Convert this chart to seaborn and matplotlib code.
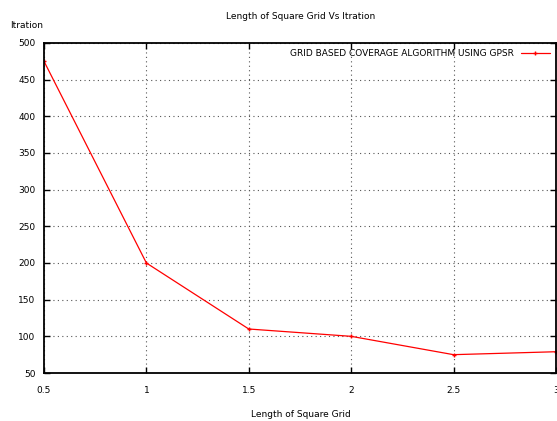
import matplotlib
matplotlib.use("Agg")
import matplotlib.pyplot as plt
import seaborn as sns
import pandas as pd

grid_length = [0.5, 1.0, 1.5, 2.0, 2.5, 3.0]
iterations = [475, 200, 110, 100, 75, 79]
series_name = "GRID BASED COVERAGE ALGORITHM USING GPSR"
x_ticks = [0.5, 1, 1.5, 2, 2.5, 3]
x_tick_labels = ["0.5", "1", "1.5", "2", "2.5", "3"]
y_ticks = [50, 100, 150, 200, 250, 300, 350, 400, 450, 500]

df = pd.DataFrame({"x": grid_length, "y": iterations, "s": series_name})

sns.set_style("white")
plt.rcParams["font.family"] = ["DejaVu Sans"]
plt.rcParams["text.color"] = "black"

fig = plt.figure(figsize=(5.57, 4.21), dpi=100)
ax = fig.add_axes([0.079, 0.114, 0.919, 0.784])

sns.lineplot(data=df, x="x", y="y", hue="s", palette=["#ff0000"], marker="+",
             markersize=3.5, markeredgewidth=1, markeredgecolor="#ff0000",
             linewidth=0.9, ax=ax)

ax.set_xlim(0.5, 3)
ax.set_ylim(50, 500)
ax.set_xticks(x_ticks)
ax.set_xticklabels(x_tick_labels)
ax.set_yticks(y_ticks)
ax.grid(True, color="#555555", linestyle=(0, (1, 3)), linewidth=0.8)
for s in ax.spines.values():
    s.set_color("black")
    s.set_linewidth(1.3)
ax.tick_params(direction="in", length=4, width=1, labelsize=6.5, top=True, right=True,
               bottom=True, left=True, pad=6, colors="black")
ax.tick_params(axis="x", pad=9)

ax.set_xlabel("")
ax.set_ylabel("")
fig.text(0.54, 0.96, "Length of Square Grid Vs Itration", ha="center", va="center",
         fontsize=6.5, color="black")
fig.text(0.018, 0.94, "Itration", ha="left", va="center", fontsize=6.5, color="black")
fig.text(0.54, 0.015, "Length of Square Grid", ha="center", va="center",
         fontsize=6.5, color="black")

leg = ax.legend(loc="upper right", frameon=False, fontsize=6.5, markerfirst=False,
                handlelength=3.2, borderaxespad=0.3, labelcolor="black")
leg.set_title(None)

fig.savefig("out.png", dpi=100)
